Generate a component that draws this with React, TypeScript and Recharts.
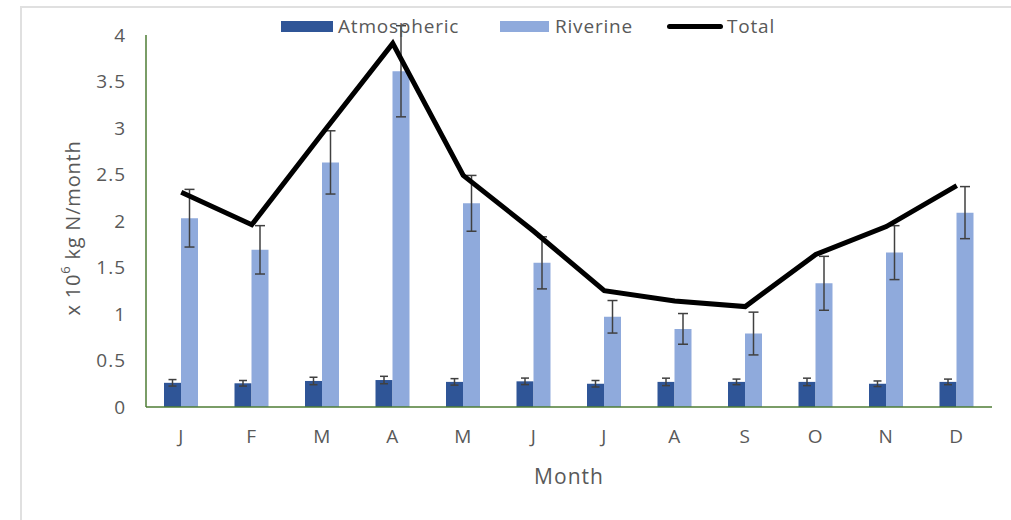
import * as React from "react";
import {
  Bar,
  ComposedChart,
  ErrorBar,
  Legend,
  Line,
  XAxis,
  YAxis
} from "recharts";

const months = ["J", "F", "M", "A", "M", "J", "J", "A", "S", "O", "N", "D"];
const atmospheric = [0.26, 0.255, 0.28, 0.29, 0.27, 0.276, 0.25, 0.27, 0.27, 0.27, 0.25, 0.27];
const atmosphericErr = [0.035, 0.03, 0.04, 0.04, 0.035, 0.035, 0.035, 0.04, 0.03, 0.04, 0.03, 0.03];
const riverine = [2.03, 1.69, 2.63, 3.61, 2.19, 1.55, 0.97, 0.84, 0.79, 1.33, 1.66, 2.09];
const riverineErr = [0.31, 0.26, 0.34, 0.49, 0.3, 0.28, 0.175, 0.165, 0.23, 0.29, 0.29, 0.28];
const total = [2.31, 1.96, 2.94, 3.91, 2.49, 1.89, 1.25, 1.14, 1.08, 1.64, 1.94, 2.38];
const yTicks = [0, 0.5, 1, 1.5, 2, 2.5, 3, 3.5, 4];

const data = months.map((month, i) => ({
  month,
  atmospheric: atmospheric[i],
  atmosphericErr: atmosphericErr[i],
  riverine: riverine[i],
  riverineErr: riverineErr[i],
  total: total[i]
}));

const darkBlue = "#2f5597";
const lightBlue = "#8faadc";
const textGray = "#595959";
const axisGreen = "#4e7d35";
const errGray = "#404040";
const font = '"Open Sans", sans-serif';

function LegendRow() {
  const labelStyle: React.CSSProperties = {
    position: "absolute",
    top: 0,
    fontSize: 19,
    letterSpacing: 0.8,
    lineHeight: "24px",
    color: textGray,
    fontFamily: font
  };
  return (
    <div style={{ position: "relative", height: 24 }}>
      <div style={{ position: "absolute", left: 281, top: 7, width: 52, height: 11, background: darkBlue }} />
      <span style={{ ...labelStyle, left: 338 }}>Atmospheric</span>
      <div style={{ position: "absolute", left: 500, top: 7, width: 49, height: 11, background: lightBlue }} />
      <span style={{ ...labelStyle, left: 555 }}>Riverine</span>
      <div style={{ position: "absolute", left: 667, top: 10, width: 56, height: 5, borderRadius: 3, background: "#000" }} />
      <span style={{ ...labelStyle, left: 727 }}>Total</span>
    </div>
  );
}

function YTitle({ viewBox }: any) {
  const cx = 72;
  const cy = viewBox.y + viewBox.height / 2 + 7;
  return (
    <text
      x={cx}
      y={cy}
      transform={`rotate(-90, ${cx}, ${cy})`}
      textAnchor="middle"
      dominantBaseline="central"
      fill={textGray}
      fontSize={20}
      letterSpacing={0.8}
      fontFamily={font}
    >
      x 10<tspan dy={-7} fontSize={13}>6</tspan>
      <tspan dy={7}> kg N/month</tspan>
    </text>
  );
}

const tickStyle = { fill: textGray, fontSize: 19, fontFamily: font, letterSpacing: 1 };

export default function App() {
  return (
    <div
      style={{
        position: "fixed",
        left: 0,
        top: 0,
        width: 1011,
        height: 520,
        overflow: "hidden",
        background: "#fff"
      }}
    >
      <div
        style={{
          position: "absolute",
          left: 20,
          top: 6,
          width: 1011,
          height: 540,
          border: "2px solid #e0e0e0"
        }}
      />
      <div style={{ position: "absolute", left: 0, top: 0 }}>
        <ComposedChart
          width={1011}
          height={520}
          data={data}
          margin={{ top: 35, right: 19, bottom: 33, left: 66 }}
          barGap={0}
          barSize={17}
        >
          <XAxis
            dataKey="month"
            tickLine={false}
            axisLine={{ stroke: axisGreen, strokeWidth: 1.5 }}
            tick={tickStyle}
            tickMargin={17}
            height={80}
            label={{
              value: "Month",
              position: "insideBottom",
              offset: 3,
              fill: textGray,
              fontSize: 21,
              letterSpacing: 1,
              fontFamily: font
            }}
          />
          <YAxis
            type="number"
            domain={[0, 4]}
            ticks={yTicks}
            allowDataOverflow
            width={80}
            tickLine={false}
            axisLine={{ stroke: axisGreen, strokeWidth: 1.5 }}
            tick={tickStyle}
            tickMargin={14}
            label={{ content: YTitle }}
          />
          <Legend
            verticalAlign="middle"
            align="center"
            wrapperStyle={{ top: 14, left: 0, width: 1011 }}
            content={() => <LegendRow />}
          />
          <Bar dataKey="atmospheric" name="Atmospheric" fill={darkBlue} isAnimationActive={false}>
            <ErrorBar dataKey="atmosphericErr" width={4} stroke={errGray} strokeWidth={1.5} direction="y" />
          </Bar>
          <Bar dataKey="riverine" name="Riverine" fill={lightBlue} isAnimationActive={false}>
            <ErrorBar dataKey="riverineErr" width={5} stroke={errGray} strokeWidth={1.5} direction="y" />
          </Bar>
          <Line
            dataKey="total"
            name="Total"
            type="linear"
            stroke="#000"
            strokeWidth={5}
            dot={false}
            activeDot={false}
            isAnimationActive={false}
          />
        </ComposedChart>
      </div>
    </div>
  );
}
